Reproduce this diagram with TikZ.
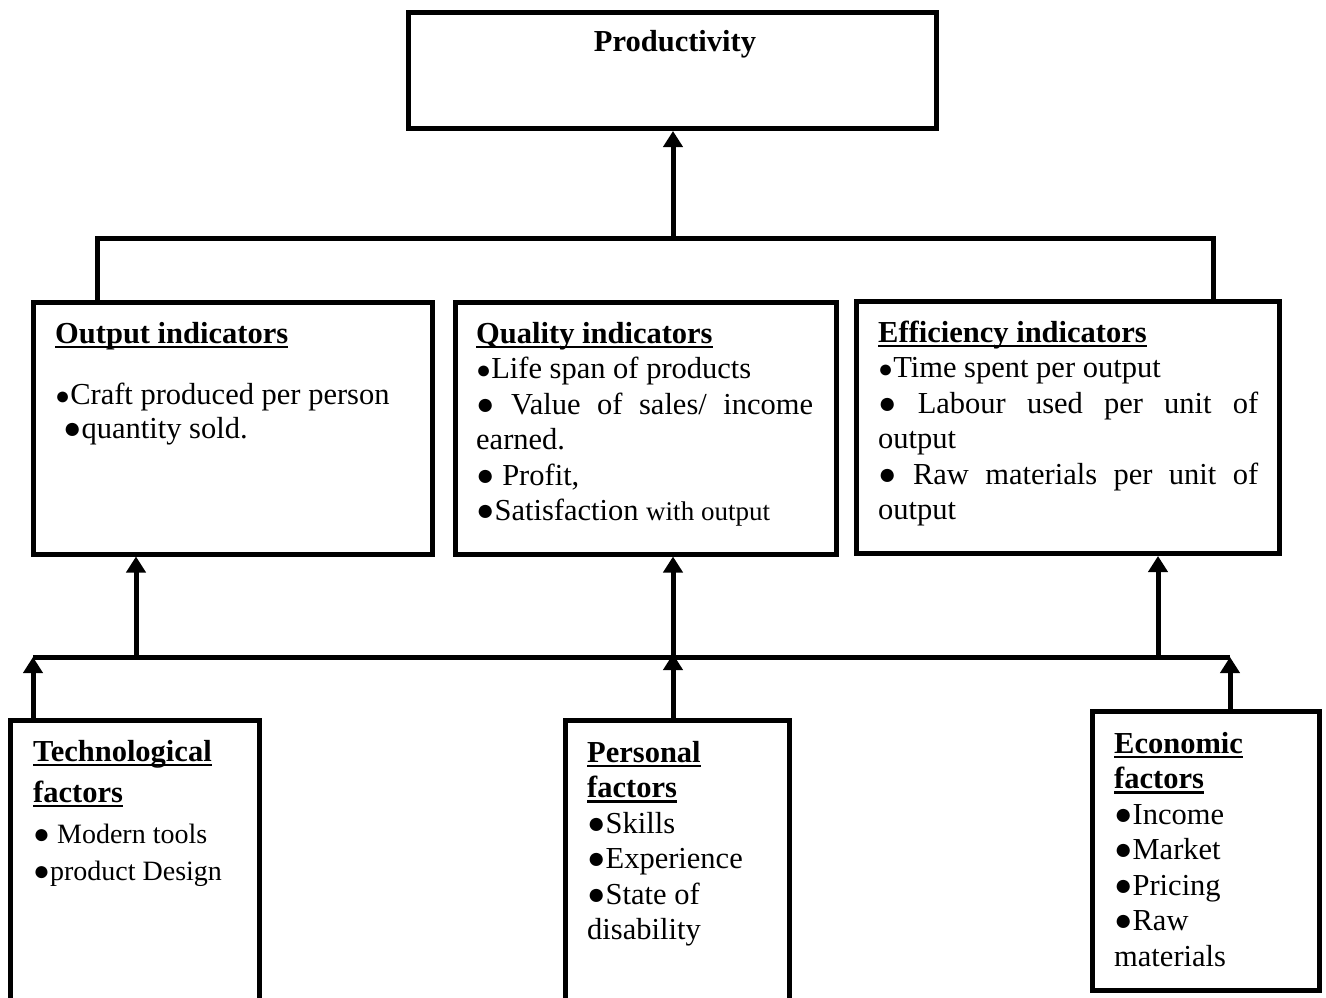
\documentclass[tikz,border=0pt]{standalone}
\usepackage{fontspec}
\setmainfont{Liberation Serif}
\usetikzlibrary{arrows.meta}
\newcommand{\hdul}[1]{\leavevmode\setbox0\hbox{\textbf{#1}}\rlap{\rule[-5pt]{\wd0}{2.5pt}}\box0}
\newcommand{\bb}{●}
\newcommand{\sbul}{{\fontsize{25}{30}\selectfont ●}}
\begin{document}
\begin{tikzpicture}[x=1pt,y=-1pt,
  box/.style={draw, line width=5pt, rectangle, inner sep=0pt},
  conn/.style={line width=5pt},
  arr/.style={conn, -{Triangle[width=19pt,length=16pt]}},
  txt/.style={anchor=base west, inner sep=0pt, font=\fontsize{30.5}{35.5}\selectfont},
]
\useasboundingbox (0,0) rectangle (1326,998);

% boxes
\node[box, minimum width=528pt, minimum height=116pt] (prod) at (672.5,70.5) {};
\node[box, minimum width=399.5pt, minimum height=252pt] (out) at (232.75,428) {};
\node[box, minimum width=381pt, minimum height=252pt] (qual) at (645.5,428) {};
\node[box, minimum width=423pt, minimum height=252pt] (eff) at (1068,427.5) {};
\node[box, minimum width=249pt, minimum height=299.5pt] (tech) at (135,870.25) {};
\node[box, minimum width=224.5pt, minimum height=299.5pt] (pers) at (677.25,870.25) {};
\node[box, minimum width=227pt, minimum height=279pt] (econ) at (1206,851) {};

% texts
\node[txt, anchor=base] (prodT) at (675,52) {\textbf{Productivity}};

\node[txt] (outT) at (55,343) {\parbox[t]{370pt}{\raggedright
\hdul{Output indicators}\\[25.5pt]
\sbul Craft produced per person\\[-1.5pt]
\hspace*{8pt}\bb quantity sold.}};

\node[txt] (qualT) at (476,343) {\parbox[t]{337pt}{\raggedright
\hdul{Quality indicators}\\
\sbul Life span of products\\
\makebox[337pt][s]{\bb\ Value of sales/ income}\\
earned.\\
\bb\ Profit,\\
\bb Satisfaction {\fontsize{27}{35.5}\selectfont with output}}};

\node[txt] (effT) at (878,342) {\parbox[t]{380pt}{\raggedright
\hdul{Efficiency indicators}\\
\sbul Time spent per output\\
\makebox[380pt][s]{\bb\ Labour used per unit of}\\
output\\
\makebox[380pt][s]{\bb\ Raw materials per unit of}\\
output}};

\node[txt] (techT) at (33,761) {\parbox[t]{220pt}{\raggedright
\hdul{Technological}\\[5.5pt]
\hdul{factors}\\[5.5pt]
{\fontsize{28}{35.5}\selectfont \bb\ Modern tools}\\[1.5pt]
{\fontsize{28}{35.5}\selectfont \bb product Design}}};

\node[txt] (persT) at (587,762) {\parbox[t]{195pt}{\raggedright
\hdul{Personal}\\
\hdul{factors}\\
\bb Skills\\
\bb Experience\\
\bb State of\\
disability}};

\node[txt] (econT) at (1114,753) {\parbox[t]{195pt}{\raggedright
\hdul{Economic}\\
\hdul{factors}\\
\bb Income\\
\bb Market\\
\bb Pricing\\
\bb Raw\\
materials}};

% top connectors
\coordinate (tl) at (97,238);
\coordinate (tm) at (673,238);
\coordinate (tr) at (1213,238);
\draw[conn] (tl |- out.north) -- (tl) -- (tr) -- (tr |- eff.north);
\draw[arr] (tm) -- (tm |- prod.south);

% bottom connectors
\coordinate (bl) at (33,657);
\coordinate (br) at (1230,657);
\coordinate (b1) at (136,657);
\coordinate (b2) at (673,657);
\coordinate (b3) at (1158,657);
\draw[conn] (bl) -- (br);
\draw[arr] (b1) -- (b1 |- out.south);
\draw[arr] (b2) -- (b2 |- qual.south);
\draw[arr] (b3) -- (b3 |- eff.south);
\draw[arr] (bl |- tech.north) -- (bl);
\draw[arr] (b2 |- pers.north) -- ([yshift=3pt]b2);
\draw[arr] (br |- econ.north) -- (br);
\end{tikzpicture}
\end{document}
